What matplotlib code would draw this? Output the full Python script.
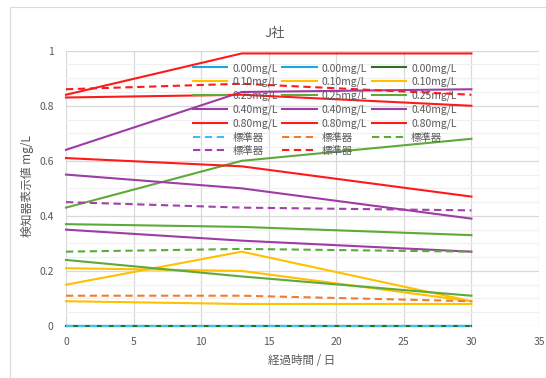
import matplotlib
matplotlib.use("Agg")
import matplotlib.pyplot as plt
from matplotlib.patches import Rectangle
from matplotlib.ticker import MultipleLocator, FuncFormatter

plt.rcParams['font.family'] = ['Noto Sans CJK JP', 'DejaVu Sans']

"""
DATA
"""
days = [0, 13, 30]

# detector readings, three units per concentration
conc_labels = ["0.00mg/L", "0.10mg/L", "0.25mg/L", "0.40mg/L", "0.80mg/L"]
unit_a = [
    [0.00, 0.00, 0.00],
    [0.21, 0.20, 0.09],
    [0.43, 0.60, 0.68],
    [0.64, 0.85, 0.86],
    [0.84, 0.99, 0.99],
]
unit_b = [
    [0.00, 0.00, 0.00],
    [0.15, 0.27, 0.09],
    [0.37, 0.36, 0.33],
    [0.55, 0.50, 0.39],
    [0.83, 0.84, 0.80],
]
unit_c = [
    [0.00, 0.00, 0.00],
    [0.09, 0.08, 0.08],
    [0.24, 0.18, 0.11],
    [0.35, 0.31, 0.27],
    [0.61, 0.58, 0.47],
]

# reference instrument
ref_label = "標準器"
ref_values = [
    [0.00, 0.00, 0.00],
    [0.11, 0.11, 0.09],
    [0.27, 0.28, 0.27],
    [0.45, 0.43, 0.42],
    [0.86, 0.88, 0.84],
]

colors_a = ["#1BA7E0", "#FFC000", "#5DAA3A", "#9E3CA6", "#FF1A1A"]
colors_b = ["#1BA7E0", "#FFC000", "#5DAA3A", "#9E3CA6", "#FF1A1A"]
colors_c = ["#2F6E23", "#FFC000", "#5DAA3A", "#9E3CA6", "#FF1A1A"]
ref_colors = ["#3CC0F0", "#ED7D31", "#5DAA3A", "#A040A8", "#FF1A1A"]

TXT = "#595959"
W, H = 546, 378

fig = plt.figure(figsize=(W / 100, H / 100), dpi=100)
fig.patch.set_facecolor("white")
fig.patches.append(Rectangle((10 / W, -0.1), 1.2, (1 - 7 / H) + 0.1,
                             transform=fig.transFigure, fill=False,
                             edgecolor="#D9D9D9", lw=0.8))

ax = fig.add_axes([66 / W, 1 - 326 / H, (539 - 66) / W, (326 - 50.7) / H])

handles = {}
for i in range(5):
    handles[("a", i)], = ax.plot(days, unit_a[i], color=colors_a[i], lw=1.5,
                                 label=conc_labels[i], clip_on=False, zorder=3)
    handles[("b", i)], = ax.plot(days, unit_b[i], color=colors_b[i], lw=1.5,
                                 label=conc_labels[i], clip_on=False, zorder=3)
    handles[("c", i)], = ax.plot(days, unit_c[i], color=colors_c[i], lw=1.5,
                                 label=conc_labels[i], clip_on=False, zorder=3)
ref_handles = []
for i in range(5):
    h, = ax.plot(days, ref_values[i], color=ref_colors[i], lw=1.5,
                 dashes=(3.5, 2.2), label=ref_label, clip_on=False, zorder=4)
    ref_handles.append(h)

ax.set_xlim(0, 35)
ax.set_ylim(0, 1)
ax.xaxis.set_major_locator(MultipleLocator(5))
ax.yaxis.set_major_locator(MultipleLocator(0.2))
ax.yaxis.set_minor_locator(MultipleLocator(0.05))
ax.yaxis.set_major_formatter(FuncFormatter(lambda v, p: "{:g}".format(round(v, 2))))
ax.grid(which="major", color="#D9D9D9", lw=0.9)
ax.grid(which="minor", axis="y", color="#F0F0F0", lw=0.9)
ax.set_axisbelow(True)
for s in ax.spines.values():
    s.set_visible(False)
ax.tick_params(which="both", length=0, labelsize=7.5, labelcolor=TXT)
ax.tick_params(axis="y", pad=9)
ax.tick_params(axis="x", pad=8)

# legend is filled column by column, so order the handles to read row-wise
col1 = [handles[("a", i)] for i in range(5)] + [ref_handles[0], ref_handles[3]]
col2 = [handles[("b", i)] for i in range(5)] + [ref_handles[1], ref_handles[4]]
col3 = [handles[("c", i)] for i in range(5)] + [ref_handles[2]]
order = col1 + col2 + col3
leg = ax.legend(order, [h.get_label() for h in order], ncol=3,
                loc="upper left", bbox_to_anchor=(193 / W, 1 - 63 / H),
                bbox_transform=fig.transFigure, frameon=False,
                fontsize=7.5, labelcolor=TXT, handlelength=3.3,
                handletextpad=0.5, columnspacing=0.4, labelspacing=0.33,
                borderpad=0, borderaxespad=0)

fig.text(275 / W, 1 - 33 / H, "J社", ha="center", va="center",
         fontsize=9.5, color=TXT)
fig.text(27 / W, 1 - 186 / H, "検知器表示値 mg/L", ha="center", va="center",
         rotation=90, fontsize=8.5, color=TXT)
fig.text(302 / W, 1 - 361 / H, "経過時間 / 日", ha="center", va="center",
         fontsize=8.3, color=TXT)

fig.savefig("out.png", dpi=100)
